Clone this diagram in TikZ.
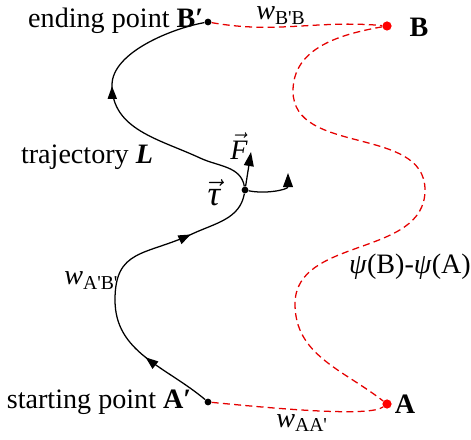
\documentclass[tikz,border=0pt]{standalone}
\usepackage{fontspec}
\setmainfont{Liberation Serif}
\usepackage{tikz}
\usetikzlibrary{arrows.meta,decorations.markings}

\begin{document}
\begin{tikzpicture}[x=0.025cm, y=0.025cm,
  lbl/.style={inner sep=1pt, font=\fontsize{20}{23}\selectfont},
  wlbl/.style={inner sep=0pt, anchor=base west, font=\fontsize{20}{23}\selectfont},
  bdot/.style={circle, fill=black, inner sep=0pt, minimum size=0.17cm},
  rdot/.style={circle, fill=red, inner sep=0pt, minimum size=0.23cm},
  traj/.style={draw=black, line width=0.9pt},
  force/.style={traj, -{Triangle[length=10pt,width=7pt]}},
  wpath/.style={draw=red!90!black, line width=0.9pt, dash pattern=on 5pt off 3pt},
  midarrow/.style={postaction={decorate, decoration={markings,
      mark=at position #1 with {\arrow{Triangle[length=9pt,width=6.5pt]}}}}},
]
\useasboundingbox (0,0) rectangle (471,439);

% Points
\node[bdot] (Bp) at (208,417) {};
\node[rdot] (B) at (387,413) {};
\node[bdot] (Ap) at (208,37) {};
\node[rdot] (A) at (387,35) {};
\node[bdot] (tau) at (245,249) {};

% Helper coordinates
\coordinate (lowL) at (115,139);
\coordinate (mid1) at (192,205);
\coordinate (up1) at (200,281);
\coordinate (upL) at (112,354);
\coordinate (r1) at (293,348);
\coordinate (r2) at (425,249);
\coordinate (r3) at (295,135);
\coordinate (Ftip) at (251,287);
\coordinate (ctip) at (288,266);

% Labels
\node[lbl, anchor=east] (endlbl) at (205,418) {ending point \textbf{B′}};
\node[lbl, anchor=east] (startlbl) at (193,37) {starting point \textbf{A′}};
\node[lbl] (Blbl) at (419,412) {\textbf{B}};
\node[lbl] (Albl) at (405,35) {\textbf{A}};
\node[lbl] (Llbl) at (87,282) {trajectory \textbf{\textit{L}}};
\node[wlbl] (wab) at (64,154) {\textit{w}\raisebox{-0.35ex}{\fontsize{14}{16}\selectfont A\textquotesingle B\textquotesingle}};
\node[wlbl] (wbb) at (256,419) {\textit{w}\raisebox{-0.35ex}{\fontsize{14}{16}\selectfont B\textquotesingle B}};
\node[wlbl] (waa) at (276,12) {\textit{w}\raisebox{-0.35ex}{\fontsize{14}{16}\selectfont AA\textquotesingle}};
\node[lbl] (psi) at (410,172) {\textit{ψ}(B)-\textit{ψ}(A)};
\node[lbl] (Flbl) at (239,293) {$\vec{\textit{F}}$};
\node[lbl, font=\fontsize{25}{28}\selectfont] (taulbl) at (214,246) {$\vec{\textit{τ}}$};

% Trajectory L
\draw[traj, midarrow=0.52] (Ap) to[out=140, in=-90] (lowL);
\draw[traj, midarrow=0.99] (lowL) to[out=90, in=205, looseness=1.3] (mid1);
\draw[traj] (mid1) to[out=25, in=-100] (tau);
\draw[traj] (tau) to[out=100, in=-25] (up1);
\draw[traj, midarrow=0.99] (up1) to[out=155, in=-90] (upL);
\draw[traj] (upL) to[out=90, in=190, looseness=0.75] (Bp);

% Forces at tau
\draw[force] (tau) -- (Ftip);
\draw[force] (tau) to[out=-12, in=-90] (ctip);

% Paths w
\draw[wpath] (Ap) .. controls (280,30) and (370,22) .. (A);
\draw[wpath] (Bp) to[out=-10, in=175] (B);
\draw[wpath] (B) to[out=190, in=90] (r1) to[out=-90, in=90] (r2)
  to[out=-90, in=90] (r3) to[out=-90, in=142] (A);
\end{tikzpicture}
\end{document}
